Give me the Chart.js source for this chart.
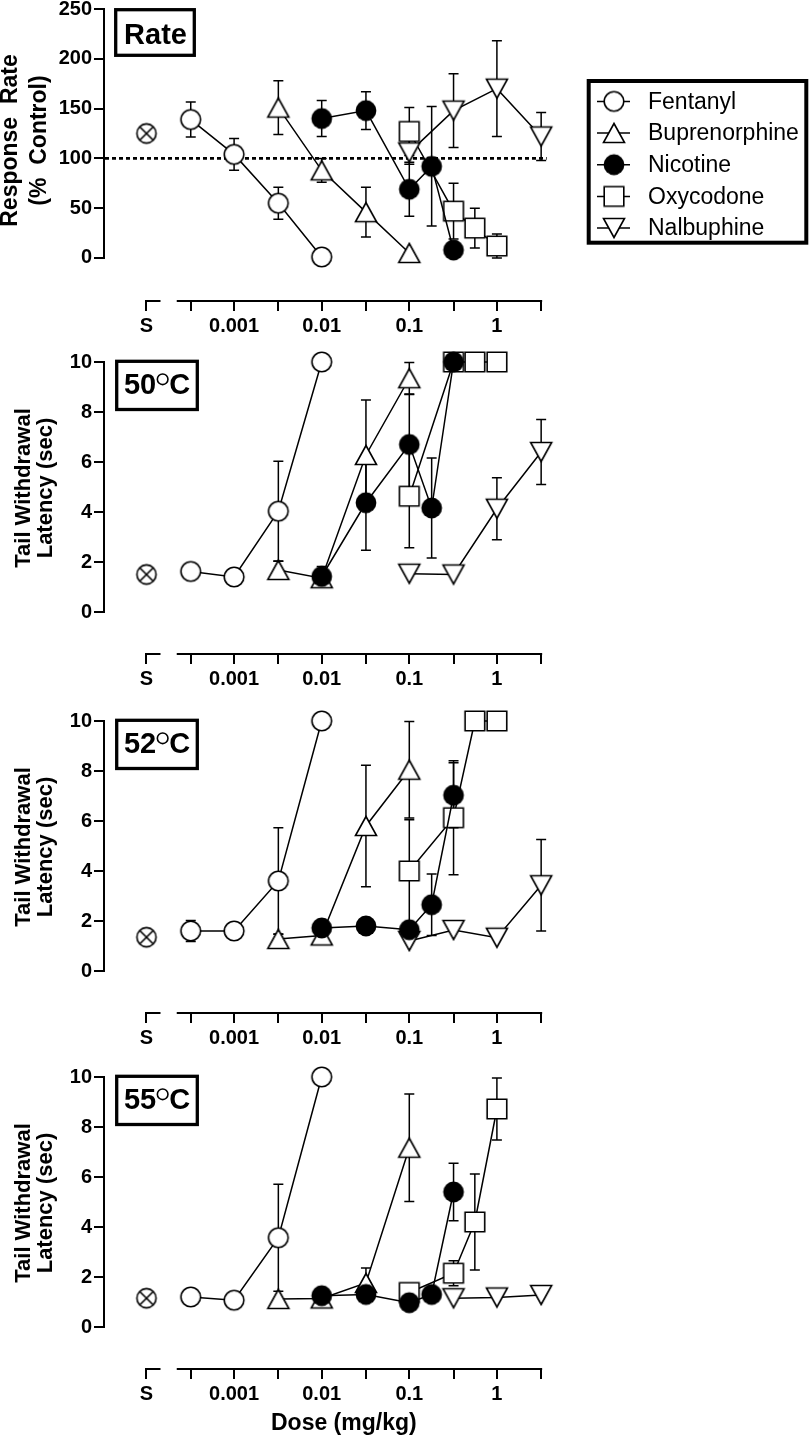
<!DOCTYPE html>
<html><head><meta charset="utf-8">
<script src="https://cdn.jsdelivr.net/npm/chart.js@4.4.1/dist/chart.umd.min.js"></script>
<style>
html,body{margin:0;padding:0;background:#fff;width:809px;height:1443px;overflow:hidden;position:relative}
canvas{position:absolute;left:0}
</style></head><body>
<canvas id="c0" width="809" height="381"></canvas>
<canvas id="c1" width="809" height="381"></canvas>
<canvas id="c2" width="809" height="381"></canvas>
<canvas id="c3" width="809" height="426"></canvas>
<script>
// ---------------- DATA ----------------
const doseTicks = [0.0001, 0.00032, 0.001, 0.0032, 0.01, 0.032, 0.1, 0.32, 1, 3.2];
const doseTickLabels = ['S', '', '0.001', '', '0.01', '', '0.1', '', '1', ''];
const salineDose = [0.0001];
const fentanylDoses = [0.00032, 0.001, 0.0032, 0.01];
const buprenorphineDoses = [0.0032, 0.01, 0.032, 0.1];
const nicotineDoses = [0.01, 0.032, 0.1, 0.18, 0.32];
const oxycodoneDoses = [0.1, 0.32, 0.56, 1];
const nalbuphineDoses = [0.1, 0.32, 1, 3.2];
const nalbuphineDoses55 = [0.32, 1, 3.2];
const drugNames = ['Fentanyl', 'Buprenorphine', 'Nicotine', 'Oxycodone', 'Nalbuphine'];

const rateTicks = [0, 50, 100, 150, 200, 250];
const latencyTicks = [0, 2, 4, 6, 8, 10];
const rateControlLevel = [100, 100];
const rateControlDoses = [3.36e-5, 3.7];

// Response rate (% control)
const rateSaline = [125];
const rateFentanyl = [139, 104, 55, 1];
const rateFentanylSem = [17.5, 16, 16, 0];
const rateBuprenorphine = [151, 88, 46, 5];
const rateBuprenorphineSem = [27, 12, 25, 0];
const rateNicotine = [140, 148, 69, 92, 8];
const rateNicotineSem = [18, 19, 27, 60, 0];
const rateOxycodone = [127, 47, 30, 12];
const rateOxycodoneSem = [24, 28, 20, 12];
const rateNalbuphine = [106, 148, 170, 122];
const rateNalbuphineSem = [12, 37, 48, 24];

// 50 °C tail withdrawal latency (sec)
const t50Saline = [1.5];
const t50Fentanyl = [1.62, 1.4, 4.03, 10];
const t50FentanylSem = [0, 0, 2.0, 0];
const t50Buprenorphine = [1.68, 1.35, 6.28, 9.35];
const t50BuprenorphineSem = [0.36, 0.2, 2.2, 0.63];
const t50Nicotine = [1.42, 4.37, 6.7, 4.16, 10];
const t50NicotineSem = [0.4, 1.9, 2.0, 2.0, 0];
const t50Oxycodone = [4.63, 10, 10, 10];
const t50OxycodoneSem = [2.06, 0, 0, 0];
const t50Nalbuphine = [1.53, 1.5, 4.13, 6.4];
const t50NalbuphineSem = [0, 0, 1.24, 1.3];

// 52 °C
const t52Saline = [1.35];
const t52Fentanyl = [1.6, 1.6, 3.6, 10];
const t52FentanylSem = [0.42, 0, 2.13, 0];
const t52Buprenorphine = [1.28, 1.42, 5.8, 8.05];
const t52BuprenorphineSem = [0.2, 0, 2.43, 1.93];
const t52Nicotine = [1.72, 1.8, 1.65, 2.65, 7.03];
const t52NicotineSem = [0, 0, 0, 1.23, 1.3];
const t52Oxycodone = [4.0, 6.13, 10, 10];
const t52OxycodoneSem = [2.05, 2.28, 0, 0];
const t52Nalbuphine = [1.2, 1.64, 1.33, 3.43];
const t52NalbuphineSem = [0, 0, 0, 1.83];

// 55 °C
const t55Saline = [1.15];
const t55Fentanyl = [1.2, 1.07, 3.57, 10];
const t55FentanylSem = [0, 0, 2.14, 0];
const t55Buprenorphine = [1.12, 1.14, 1.76, 7.17];
const t55BuprenorphineSem = [0, 0, 0.6, 2.15];
const t55Nicotine = [1.25, 1.3, 0.97, 1.3, 5.4];
const t55NicotineSem = [0, 0, 0, 0, 1.15];
const t55Oxycodone = [1.38, 2.15, 4.2, 8.72];
const t55OxycodoneSem = [0, 0.5, 1.92, 1.24];
const t55Nalbuphine = [1.15, 1.18, 1.28];
const t55NalbuphineSem = [0, 0, 0];

// ---------------- LAYOUT / STYLE ----------------
const FONT = "'Liberation Sans', Arial, Helvetica, sans-serif";
const X_MIN = 3.36e-5, X_MAX = 5.252;
const PAD_TOP = 30;

function mk(w, h, fn) {
  const c = document.createElement('canvas'); c.width = w; c.height = h;
  const g = c.getContext('2d'); fn(g, w / 2, h / 2); return c;
}
const LW = 1.6;
const img = {
  open: mk(28, 28, (g, cx, cy) => { g.beginPath(); g.arc(cx, cy, 9.8, 0, 2 * Math.PI); g.fillStyle = '#fff'; g.fill(); g.lineWidth = LW; g.strokeStyle = '#000'; g.stroke(); }),
  filled: mk(28, 28, (g, cx, cy) => { g.beginPath(); g.arc(cx, cy, 10.4, 0, 2 * Math.PI); g.fillStyle = '#000'; g.fill(); }),
  square: mk(28, 28, (g, cx, cy) => { g.beginPath(); g.rect(cx - 9.8, cy - 9.8, 19.6, 19.6); g.fillStyle = '#fff'; g.fill(); g.lineWidth = LW; g.strokeStyle = '#000'; g.stroke(); }),
  triUp: mk(30, 30, (g, cx, cy) => { g.beginPath(); g.moveTo(cx, cy - 9.5); g.lineTo(cx + 10.5, cy + 9.5); g.lineTo(cx - 10.5, cy + 9.5); g.closePath(); g.fillStyle = '#fff'; g.fill(); g.lineWidth = LW; g.strokeStyle = '#000'; g.stroke(); }),
  triDown: mk(30, 30, (g, cx, cy) => { g.beginPath(); g.moveTo(cx, cy + 9.5); g.lineTo(cx + 10.5, cy - 9.5); g.lineTo(cx - 10.5, cy - 9.5); g.closePath(); g.fillStyle = '#fff'; g.fill(); g.lineWidth = LW; g.strokeStyle = '#000'; g.stroke(); }),
  saline: mk(28, 28, (g, cx, cy) => { g.beginPath(); g.arc(cx, cy, 9.6, 0, 2 * Math.PI); g.fillStyle = '#fff'; g.fill(); g.lineWidth = LW; g.strokeStyle = '#000'; g.stroke(); const d = 6.8; g.beginPath(); g.moveTo(cx - d, cy - d); g.lineTo(cx + d, cy + d); g.moveTo(cx + d, cy - d); g.lineTo(cx - d, cy + d); g.stroke(); })
};
const drugImgs = [img.open, img.triUp, img.filled, img.square, img.triDown];

function zip(xs, ys) { return xs.map((x, i) => ({ x: x, y: ys[i] })); }

const panels = [
  { id: 'c0', label: 'Rate', yMin: -42.2, yMax: 250, yTicks: rateTicks, yTop: 9.3, titles: ['Response  Rate', '(%  Control)'], titleX: [17, 46], titleShift: 7, titleSize: 23,
    saline: rateSaline, series: [[fentanylDoses, rateFentanyl, rateFentanylSem], [buprenorphineDoses, rateBuprenorphine, rateBuprenorphineSem], [nicotineDoses, rateNicotine, rateNicotineSem], [oxycodoneDoses, rateOxycodone, rateOxycodoneSem], [nalbuphineDoses, rateNalbuphine, rateNalbuphineSem]], control: true, legend: true },
  { id: 'c1', label: '50', yMin: -1.64, yMax: 10, yTicks: latencyTicks, yTop: 361.7, titles: ['Tail Withdrawal', 'Latency (sec)'], titleX: [30, 51.5], titleShift: 1, titleSize: 22,
    saline: t50Saline, series: [[fentanylDoses, t50Fentanyl, t50FentanylSem], [buprenorphineDoses, t50Buprenorphine, t50BuprenorphineSem], [nicotineDoses, t50Nicotine, t50NicotineSem], [oxycodoneDoses, t50Oxycodone, t50OxycodoneSem], [nalbuphineDoses, t50Nalbuphine, t50NalbuphineSem]] },
  { id: 'c2', label: '52', yMin: -1.64, yMax: 10, yTicks: latencyTicks, yTop: 721.1, titles: ['Tail Withdrawal', 'Latency (sec)'], titleX: [30, 51.5], titleShift: 1, titleSize: 22,
    saline: t52Saline, series: [[fentanylDoses, t52Fentanyl, t52FentanylSem], [buprenorphineDoses, t52Buprenorphine, t52BuprenorphineSem], [nicotineDoses, t52Nicotine, t52NicotineSem], [oxycodoneDoses, t52Oxycodone, t52OxycodoneSem], [nalbuphineDoses, t52Nalbuphine, t52NalbuphineSem]] },
  { id: 'c3', label: '55', yMin: -1.64, yMax: 10, yTicks: latencyTicks, yTop: 1076.7, titles: ['Tail Withdrawal', 'Latency (sec)'], titleX: [30, 51.5], titleShift: 1, titleSize: 22,
    saline: t55Saline, series: [[fentanylDoses, t55Fentanyl, t55FentanylSem], [buprenorphineDoses, t55Buprenorphine, t55BuprenorphineSem], [nicotineDoses, t55Nicotine, t55NicotineSem], [oxycodoneDoses, t55Oxycodone, t55OxycodoneSem], [nalbuphineDoses55, t55Nalbuphine, t55NalbuphineSem]], xTitle: 'Dose (mg/kg)' }
];
const drawOrder = [5, 4, 1, 3, 2]; // nicotine on top, then nalbuphine, oxycodone...

function buildDatasets(p) {
  const ds = [];
  if (p.control) {
    ds.push({ label: 'Control', data: zip(rateControlDoses, rateControlLevel), showLine: true, borderColor: '#000', borderWidth: 2.6, borderDash: [4, 3], pointRadius: 0, order: 9, clip: false });
  }
  ds.push({ label: 'Saline', data: zip(salineDose, p.saline), showLine: false, pointStyle: img.saline, pointRadius: 10, order: 8, clip: false });
  p.series.forEach((s, i) => {
    ds.push({ label: drugNames[i], data: zip(s[0], s[1]), sem: s[2], showLine: true, borderColor: '#000', borderWidth: 1.5, pointStyle: drugImgs[i], pointRadius: 10, pointHoverRadius: 10, tension: 0, order: drawOrder[i], clip: false });
  });
  return ds;
}

function drawRing(ctx, x, y, r) { ctx.beginPath(); ctx.arc(x, y, r, 0, 2 * Math.PI); ctx.stroke(); }

function makePlugin(p, canvasTop) {
  return {
    id: 'custom' + p.id,
    beforeDatasetsDraw(chart) {
      const ctx = chart.ctx, xs = chart.scales.x, ys = chart.scales.y, ca = chart.chartArea;
      ctx.save();
      ctx.strokeStyle = '#000';
      ctx.lineWidth = 2;
      const y0 = ys.getPixelForValue(p.yTicks[0]), yM = ys.getPixelForValue(p.yTicks[p.yTicks.length - 1]);
      ctx.beginPath(); ctx.moveTo(ca.left - 1, y0 + 1); ctx.lineTo(ca.left - 1, yM - 1); ctx.stroke();
      const sPx = xs.getPixelForValue(doseTicks[0]), fPx = xs.getPixelForValue(doseTicks[1]), lPx = xs.getPixelForValue(doseTicks[doseTicks.length - 1]);
      const ax = Math.round(ca.bottom) + 1;
      ctx.beginPath(); ctx.moveTo(sPx - 1, ax); ctx.lineTo(sPx + 14, ax); ctx.moveTo(fPx - 14, ax); ctx.lineTo(lPx + 1, ax); ctx.stroke();
      ctx.lineWidth = 1.5;
      chart.data.datasets.forEach(d => {
        if (!d.sem) return;
        d.data.forEach((pt, i) => {
          const e = d.sem[i]; if (!e) return;
          const x = xs.getPixelForValue(pt.x), t = ys.getPixelForValue(pt.y + e), b = ys.getPixelForValue(pt.y - e);
          ctx.beginPath(); ctx.moveTo(x, t); ctx.lineTo(x, b);
          ctx.moveTo(x - 5, t); ctx.lineTo(x + 5, t); ctx.moveTo(x - 5, b); ctx.lineTo(x + 5, b); ctx.stroke();
        });
      });
      ctx.restore();
    },
    afterDraw(chart) {
      const ctx = chart.ctx, xs = chart.scales.x, ys = chart.scales.y, ca = chart.chartArea;
      ctx.save();
      ctx.fillStyle = '#000'; ctx.strokeStyle = '#000';
      const yc = (ys.getPixelForValue(p.yTicks[0]) + ys.getPixelForValue(p.yTicks[p.yTicks.length - 1])) / 2 + p.titleShift;
      ctx.font = 'bold ' + p.titleSize + 'px ' + FONT; ctx.textAlign = 'center'; ctx.textBaseline = 'alphabetic';
      p.titles.forEach((t, i) => { ctx.save(); ctx.translate(p.titleX[i], yc); ctx.rotate(-Math.PI / 2); ctx.fillText(t, 0, 0); ctx.restore(); });
      const top = ca.top;
      ctx.lineWidth = 3.3;
      if (p.label === 'Rate') {
        ctx.strokeRect(115.7, top + 0.7, 78.6, 45.6);
        ctx.font = 'bold 29px ' + FONT; ctx.textAlign = 'center';
        ctx.fillText('Rate', 155.5, top + 34.7);
      } else {
        ctx.strokeRect(116.7, top - 0.7, 80.6, 48.2);
        ctx.font = 'bold 29px ' + FONT; ctx.textAlign = 'left';
        const label = p.label + '\u00B0C';
        const w1 = ctx.measureText(p.label).width, w3 = ctx.measureText('C').width;
        const wr = 13;
        const total = w1 + wr + w3;
        const x0 = 157 - total / 2;
        const bl = top + 32.3;
        ctx.fillText(p.label, x0, bl);
        ctx.lineWidth = 1.6;
        drawRing(ctx, x0 + w1 + wr / 2, bl - 15, 5.3);
        ctx.fillText('C', x0 + w1 + wr, bl);
        chart.canvas.setAttribute('aria-label', label);
      }
      if (p.xTitle) {
        const sPx = xs.getPixelForValue(doseTicks[0]), lPx = xs.getPixelForValue(doseTicks[doseTicks.length - 1]);
        ctx.font = 'bold 23px ' + FONT; ctx.textAlign = 'center';
        ctx.fillText(p.xTitle, (sPx + lPx) / 2, 1430 - canvasTop);
      }
      if (p.legend) {
        ctx.lineWidth = 4;
        ctx.strokeRect(588.7, 81.3 - canvasTop, 217.6, 161.7);
        ctx.font = '23px ' + FONT; ctx.textAlign = 'left'; ctx.textBaseline = 'middle';
        const rows = [101.7, 133.3, 165, 196.7, 228.3];
        drugNames.forEach((n, i) => {
          const y = rows[i] - canvasTop;
          ctx.lineWidth = 1.5;
          ctx.beginPath(); ctx.moveTo(597, y); ctx.lineTo(630, y); ctx.stroke();
          const im = drugImgs[i];
          ctx.drawImage(im, 614 - im.width / 2, y - im.height / 2);
          ctx.fillText(n, 648, y + 1);
        });
      }
      ctx.restore();
    }
  };
}

panels.forEach(p => {
  const canvas = document.getElementById(p.id);
  const canvasTop = p.yTop - PAD_TOP;
  canvas.style.top = canvasTop + 'px';
  const tickFont = { family: FONT, size: 20, weight: 'bold' };
  new Chart(canvas, {
    type: 'scatter',
    data: { datasets: buildDatasets(p) },
    options: {
      responsive: false, animation: false, events: [],
      layout: { padding: { top: PAD_TOP, right: 249, bottom: p.xTitle ? 45 : 0, left: 0 } },
      plugins: { legend: { display: false }, tooltip: { enabled: false } },
      scales: {
        x: {
          type: 'logarithmic', min: X_MIN, max: X_MAX, bounds: 'data',
          afterBuildTicks: s => { s.ticks = doseTicks.map(v => ({ value: v })); },
          afterFit: s => { s.height = 60; s.paddingLeft = 0; s.paddingRight = 0; },
          grid: { drawOnChartArea: false, drawTicks: true, tickLength: 11, color: '#000', lineWidth: 2 },
          border: { display: false },
          ticks: { autoSkip: false, maxRotation: 0, minRotation: 0, padding: 3, color: '#000', font: tickFont, callback: (v, i) => doseTickLabels[i] }
        },
        y: {
          type: 'linear', min: p.yMin, max: p.yMax, bounds: 'data',
          afterBuildTicks: s => { s.ticks = p.yTicks.map(v => ({ value: v })); },
          afterFit: s => { s.width = 105; s.paddingTop = 0; s.paddingBottom = 0; },
          grid: { drawOnChartArea: false, drawTicks: true, tickLength: 11, color: '#000', lineWidth: 2 },
          border: { display: false },
          ticks: { padding: 2, color: '#000', font: tickFont, callback: v => String(v) }
        }
      }
    },
    plugins: [makePlugin(p, canvasTop)]
  });
});
</script>
</body></html>
